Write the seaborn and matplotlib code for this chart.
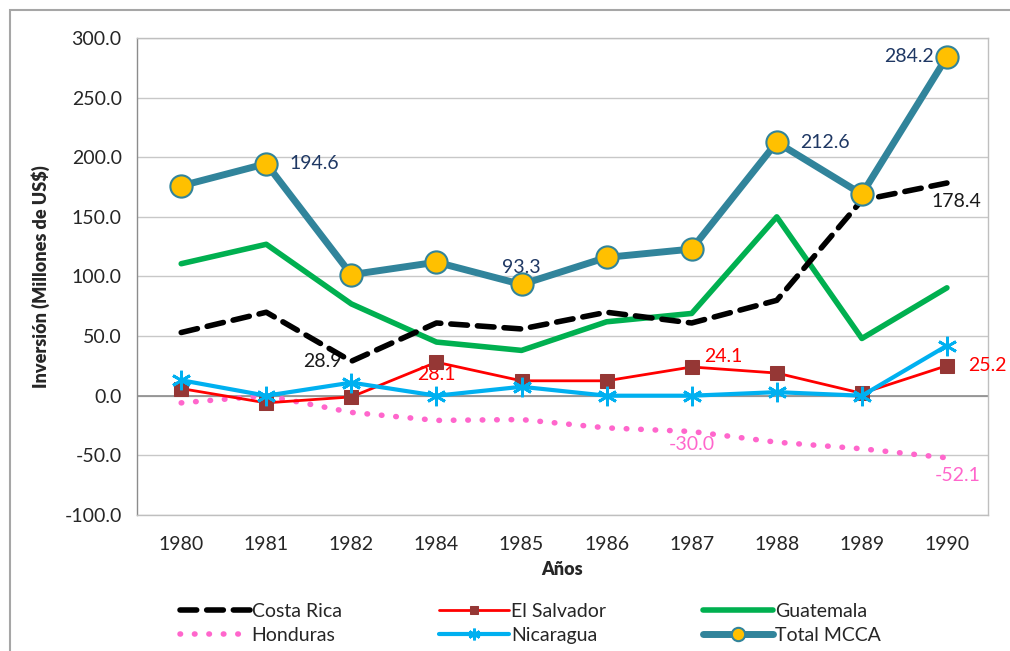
import numpy as np
import pandas as pd
import matplotlib
matplotlib.use("Agg")
import matplotlib.pyplot as plt
import seaborn as sns

years = ["1980", "1981", "1982", "1984", "1985", "1986", "1987", "1988", "1989", "1990"]
costa_rica = [53.0, 70.0, 28.9, 61.0, 56.0, 70.0, 61.0, 80.0, 164.0, 178.4]
el_salvador = [6.0, -6.0, -1.0, 28.1, 12.5, 12.5, 24.1, 19.0, 2.0, 25.2]
guatemala = [110.7, 127.0, 77.0, 45.0, 38.0, 62.0, 69.0, 150.0, 48.0, 90.5]
honduras = [-6.0, 0.0, -14.0, -20.7, -20.0, -27.0, -30.0, -39.0, -44.5, -52.1]
nicaragua = [13.0, 0.0, 11.0, 0.0, 7.5, 0.0, 0.0, 3.0, 0.0, 42.0]
total_mcca = [176.0, 194.6, 101.5, 112.0, 93.3, 116.0, 123.0, 212.6, 169.0, 284.2]

sns.set_style("white")
plt.rcParams['font.family'] = ['Lato', 'DejaVu Sans']

fig = plt.figure(figsize=(10.1, 6.51), dpi=100)
ax = fig.add_axes([0.1356, 0.209, 0.8424, 0.7326])
x = np.arange(len(years))

# gridlines first
for v in np.arange(-100, 301, 50):
    ax.axhline(v, color="#c8c8c8", lw=1, zorder=0)
ax.axhline(0, color="#8c8c8c", lw=1.2, zorder=1)

sns.lineplot(x=x, y=honduras, ax=ax, color="#FF66CC", lw=4, linestyle=(0, (0.1, 2.5)),
             dash_capstyle="round", label="Honduras", zorder=2)
sns.lineplot(x=x, y=guatemala, ax=ax, color="#00B050", lw=4, label="Guatemala", zorder=3)
sns.lineplot(x=x, y=costa_rica, ax=ax, color="black", lw=4, linestyle=(0, (3, 1.8)),
             dash_capstyle="round", label="Costa Rica", zorder=4)
sns.lineplot(x=x, y=el_salvador, ax=ax, color="#FF0000", lw=2, marker="s", markersize=10,
             markerfacecolor="#953735", markeredgecolor="#953735", label="El Salvador", zorder=5)
sns.lineplot(x=x, y=nicaragua, ax=ax, color="#00B0F0", lw=3, marker=(6, 2, 0), markersize=14,
             markeredgecolor="#00B0F0", markeredgewidth=2, label="Nicaragua", zorder=6)
sns.lineplot(x=x, y=total_mcca, ax=ax, color="#31849B", lw=5, marker="o", markersize=16,
             markerfacecolor="#FFC000", markeredgecolor="#31849B", markeredgewidth=1.5,
             label="Total MCCA", zorder=7)

# value labels
navy = "#1F3864"
fs = 14
ax.text(1.27, 194.6, "194.6", color=navy, fontsize=fs, va="center", ha="left")
ax.text(4.0, 100, "93.3", color=navy, fontsize=fs, va="bottom", ha="center")
ax.text(7.27, 212.6, "212.6", color=navy, fontsize=fs, va="center", ha="left")
ax.text(8.85, 284.2, "284.2", color=navy, fontsize=fs, va="center", ha="right")
ax.text(9.4, 163, "178.4", color="#1a1a1a", fontsize=fs, va="center", ha="right")
ax.text(1.88, 28.9, "28.9", color="#1a1a1a", fontsize=fs, va="center", ha="right")
ax.text(3.0, 18, "28.1", color="#FF0000", fontsize=fs, va="center", ha="center")
ax.text(6.15, 26, "24.1", color="#FF0000", fontsize=fs, va="bottom", ha="left")
ax.text(9.25, 25.2, "25.2", color="#FF0000", fontsize=fs, va="center", ha="left")
ax.text(6.0, -41, "-30.0", color="#FF66CC", fontsize=fs, va="center", ha="center")
ax.text(9.4, -67, "-52.1", color="#FF66CC", fontsize=fs, va="center", ha="right")

ax.set_xlim(-0.52, 9.48)
ax.set_ylim(-100, 300)
ax.set_yticks(np.arange(-100, 301, 50))
ax.set_yticklabels([f"{v:.1f}" for v in np.arange(-100, 301, 50)])
ax.set_xticks(x)
ax.set_xticklabels(years)
ax.tick_params(axis="both", labelsize=14, length=0, pad=8)
ax.tick_params(axis="y", length=5, color="#8c8c8c", direction="out", pad=6)
ax.tick_params(axis="x", pad=15)

for s in ax.spines.values():
    s.set_color("#bfbfbf")
    s.set_linewidth(1)
ax.spines["left"].set_color("#8c8c8c")

ax.set_xlabel("Años", fontsize=13, fontweight="heavy", labelpad=6)
ax.set_ylabel("Inversión (Millones de US$)", fontsize=13, fontweight="heavy", labelpad=10)

handles, labels = ax.get_legend_handles_labels()
order = ["Costa Rica", "Honduras", "El Salvador", "Nicaragua", "Guatemala", "Total MCCA"]
hmap = dict(zip(labels, handles))
ax.legend([hmap[k] for k in order], order, ncol=3, loc="center",
          bbox_to_anchor=(0.525, 0.042), bbox_transform=fig.transFigure,
          frameon=False, fontsize=14, handlelength=3.6, handletextpad=0.1,
          columnspacing=5.0, labelspacing=0.35, borderaxespad=0, markerscale=0.6)

# outer chart border
fig.patches.append(plt.Rectangle((0.01, -0.01), 1.0, 0.995, transform=fig.transFigure,
                                 fill=False, edgecolor="#a6a6a6", lw=1.5))

fig.savefig("out.png", dpi=100)
